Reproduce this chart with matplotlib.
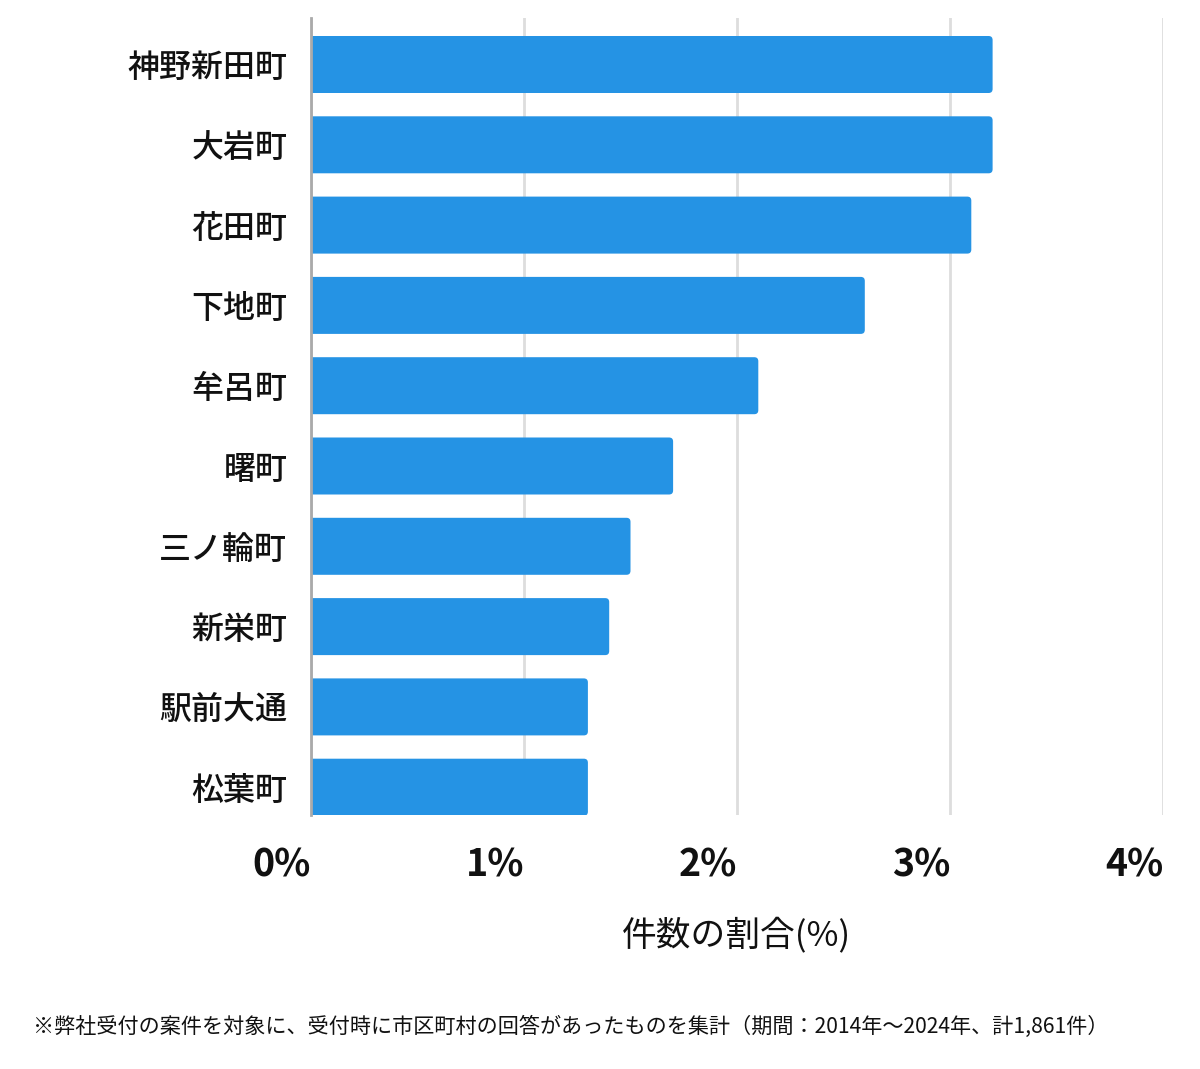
import matplotlib
matplotlib.use("Agg")
import matplotlib.pyplot as plt
from matplotlib.patches import FancyBboxPatch

plt.rcParams['font.family'] = ['Noto Sans CJK JP', 'DejaVu Sans']

categories = ["神野新田町", "大岩町", "花田町", "下地町", "牟呂町", "曙町", "三ノ輪町", "新栄町", "駅前大通", "松葉町"]
values = [3.2, 3.2, 3.1, 2.6, 2.1, 1.7, 1.5, 1.4, 1.3, 1.3]
xticks = [0, 1, 2, 3, 4]
xtick_labels = ["0%", "1%", "2%", "3%", "4%"]
xlabel = "件数の割合(%)"
footnote = "※弊社受付の案件を対象に、受付時に市区町村の回答があったものを集計（期間：2014年～2024年、計1,861件）"

W, H = 1200, 1069
fig = plt.figure(figsize=(W / 100, H / 100), dpi=100)
left, right, top, bottom = 311 / W, 1163 / W, 1 - 18 / H, 1 - 815 / H
ax = fig.add_axes([left, bottom, right - left, top - bottom])

color = "#2593e4"
n = len(categories)
ypos = list(range(n))
band_px = 80.3
ax_h_px = (top - bottom) * H
units = ax_h_px / band_px
y_top = -46.5 / band_px
ax.set_xlim(0, 4)
ax.set_ylim(y_top + units, y_top)

bars = ax.barh(ypos, values, height=57 / band_px, color=color, zorder=3)

# rounded right corners
px_per_x = (right - left) * W / 4
r_px = 4
r = r_px / px_per_x
for b in bars:
    x0, y0 = b.get_x(), b.get_y()
    w, h = b.get_width(), b.get_height()
    p = FancyBboxPatch((x0 - 3 * r, y0), w + 3 * r, h,
                       boxstyle=f"round,pad=0,rounding_size={r}",
                       mutation_aspect=px_per_x / band_px,
                       facecolor=color, edgecolor="none", zorder=3)
    ax.add_patch(p)
    b.set_visible(False)

ax.set_yticks(ypos)
ax.set_yticklabels(categories, fontsize=23, color="#111111", fontweight='medium')
ax.tick_params(axis='y', length=0, pad=17)

ax.set_xticks(xticks)
ax.set_xticklabels(xtick_labels, fontsize=27, fontweight='bold', color="#111111",
                   family=['Noto Sans CJK JP', 'DejaVu Sans'], ha='right')
ax.tick_params(axis='x', length=0, pad=22)

ax.grid(axis='x', color="#dddddd", linewidth=2, zorder=0)
ax.grid(axis='y', visible=False)
for s in ['top', 'right', 'bottom']:
    ax.spines[s].set_visible(False)
ax.spines['left'].set_color("#aaaaaa")
ax.spines['left'].set_linewidth(2)
ax.spines['left'].set_zorder(4)

fig.text(737 / W, 1 - 935 / H, xlabel, fontsize=25, ha='center', va='center', color="#111111")
fig.text(33 / W, 1 - 1027 / H, footnote, fontsize=15.2, ha='left', va='center', color="#111111")

fig.savefig("out.png", dpi=100)
